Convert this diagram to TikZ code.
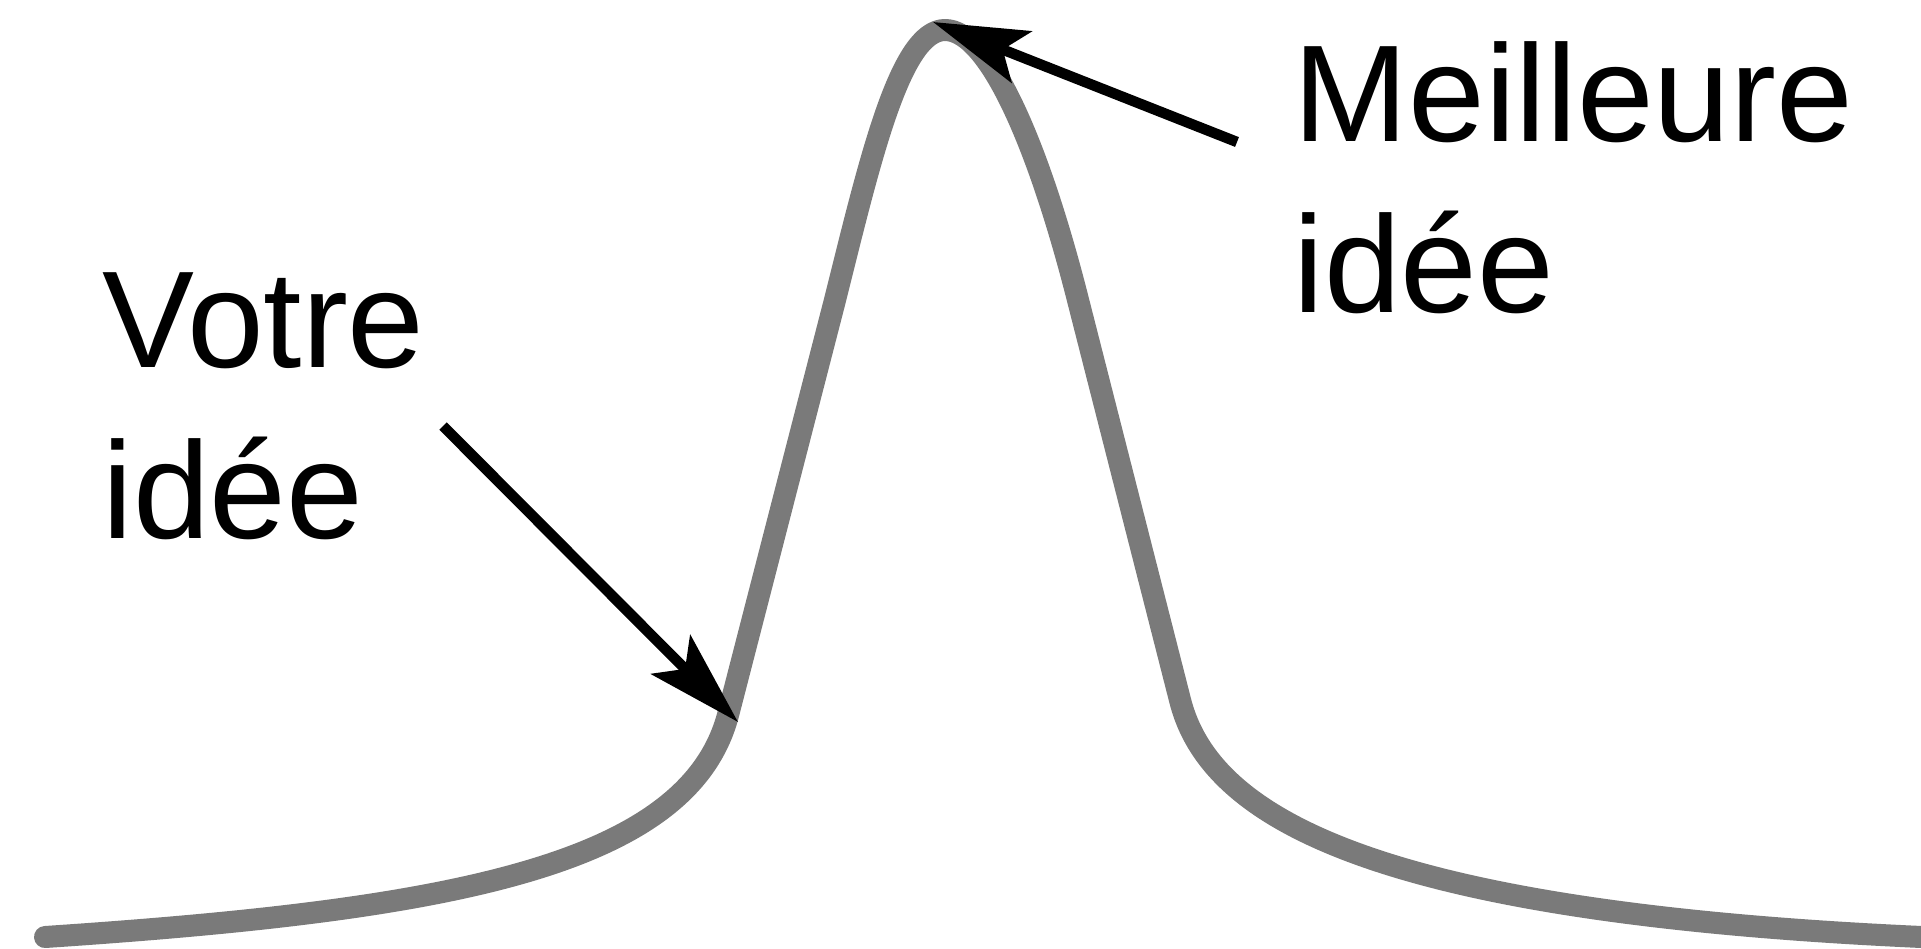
\documentclass[tikz,border=0pt]{standalone}
\usepackage{fontspec}
\setmainfont{Liberation Sans}
\usetikzlibrary{arrows.meta}
\definecolor{curvegray}{RGB}{122,122,122}
\begin{document}
\begin{tikzpicture}[x=0.01cm,y=-0.01cm,
  curve/.style={draw=curvegray, line width=0.22cm, line cap=round, line join=round},
  pointer/.style={draw=black, line width=0.105cm, -{Stealth[length=27pt,width=15.6pt,inset=5.7pt]}},
  lbl/.style={anchor=base west, inner sep=0pt, align=left, font=\fontsize{39.2pt}{48.5pt}\selectfont}]
\useasboundingbox (0,0) rectangle (1921,948);
% the curve
\draw[curve] (45,937) .. controls (450,910) and (688,866) .. (728,715)
  -- (835,300) .. controls (870,160) and (900,30) .. (945,30)
  .. controls (990,30) and (1040,150) .. (1078,300)
  -- (1180,700) .. controls (1210,820) and (1380,915) .. (1945,938);
% labels (base anchor = baseline of the last line)
\node[lbl] (best) at (1293,312) {Meilleure\\idée};
\node[lbl] (yours) at (102,538) {Votre\\idée};
% pointer ends
\coordinate (peak) at (933,22);
\coordinate (ptail) at (1237,142);
\coordinate (knee) at (738,722);
\coordinate (vtail) at (443,426);
\draw[pointer] (ptail) -- (peak);
\draw[pointer] (vtail) -- (knee);
\end{tikzpicture}
\end{document}
